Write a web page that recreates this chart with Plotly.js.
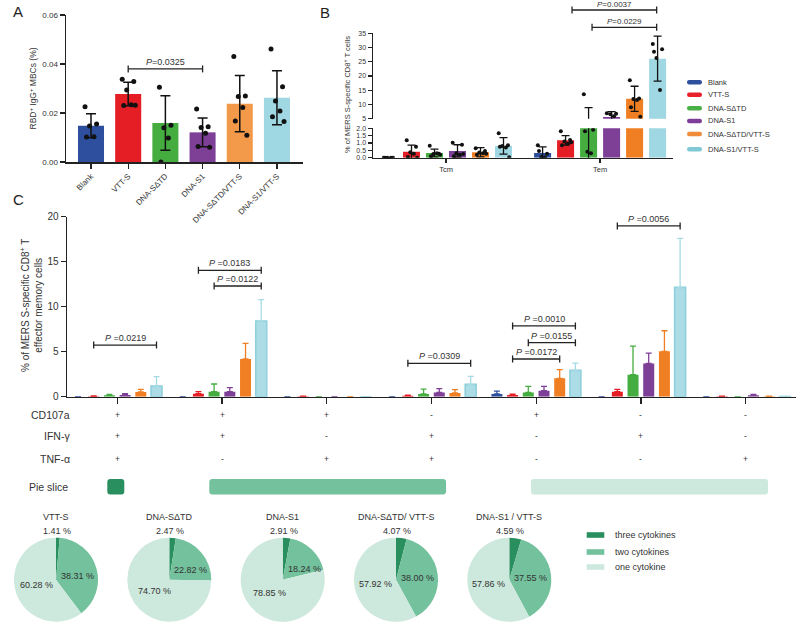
<!DOCTYPE html>
<html><head><meta charset="utf-8">
<script src="https://cdn.plot.ly/plotly-3.0.1.min.js"></script>
<style>html,body{margin:0;padding:0;background:#fff}#chart{width:796px;height:622px}</style>
</head><body><div id="chart"></div>
<script>
const W=796,H=622;
// ---------- data ----------
const seriesNames=['Blank','VTT-S','DNA-SΔTD','DNA-S1','DNA-SΔTD/VTT-S','DNA-S1/VTT-S'];
const colorsA=['#2d4f9e','#e41e24','#45ad40','#7e3f97','#f39a4a','#9fd7e2'];
const colorsB=['#2d4f9e','#e41e24','#45ad40','#7e3f97','#f07f24','#9fd7e2'];
const legendColorsB=['#2d4f9e','#e8202a','#49b047','#7f3f98','#f08c3a','#80cad8'];

// Panel A: RBD+ IgG+ MBCs (%)
const meanA=[0.0148,0.0278,0.0159,0.0121,0.0238,0.0262];
const sdA=[0.0049,0.0048,0.0111,0.0059,0.0115,0.0110];
const ptsA_blank=[0.0226,0.0155,0.0147,0.0103,0.0102];
const ptsA_vtts=[0.0338,0.0329,0.0294,0.0234,0.0231,0.0232];
const ptsA_stdtd=[0.0305,0.0150,0.0140,0.0098,0.0];
const ptsA_s1=[0.0216,0.0144,0.0141,0.0117,0.0063,0.0060];
const ptsA_stdtdVtt=[0.0431,0.0269,0.0267,0.0222,0.0167,0.0109];
const ptsA_s1Vtt=[0.0461,0.0307,0.0249,0.0208,0.0185,0.0165];
const ptsA=[ptsA_blank,ptsA_vtts,ptsA_stdtd,ptsA_s1,ptsA_stdtdVtt,ptsA_s1Vtt];
const pA={from:1,to:3,y:0.038,label:'0.0325'};

// Panel B: Tcm / Tem
const groupsB=['Tcm','Tem'];
const tcmMean=[0,0.41,0.32,0.46,0.37,0.80];
const tcmSD=[0,0.45,0.27,0.42,0.31,0.56];
const temMean=[0.32,1.18,3.6,5.6,12.0,26.1];
const temSD=[0.41,0.32,5.3,1.9,4.4,7.9];
const tcmPts=[[0,0,0,0,0],[1.18,0.75,0.37,0.27,0.05,0.0],[0.82,0.27,0.25,0.30,0.10,0.20],[1.02,0.88,0.30,0.20,0.10,0.25],[0.65,0.45,0.35,0.30,0.20,0.27],[1.66,0.85,0.80,0.70,0.75,0.03]];
const temPts=[[0.84,0.27,0.05,0.02,0.45],[1.80,1.20,1.10,0.95,0.85,1.05],[13.6,1.9,0.4,0.3,1.8],[6.9,6.7,6.6,5.9,4.0,3.5],[18.5,12.1,11.9,11.6,9.0,5.7],[31.2,29.4,26.3,15.1,28.5]];

// Panel C: cytokine combinations
const cd107a=['+','+','+','-','+','-','-'];
const ifng=['+','+','-','+','-','+','-'];
const tnfa=['+','-','+','+','-','-','+'];
const cMean=[
 [0,0,0,0,0.30,0,0],
 [0.05,0.33,0.05,0.11,0.19,0.56,0.05],
 [0.15,0.56,0,0.30,0.48,2.44,0],
 [0.19,0.56,0,0.48,0.67,3.70,0.15],
 [0.52,4.19,0,0.41,2.04,5.04,0.04],
 [1.19,8.41,0,1.37,2.93,12.15,0.02]];
const cErr=[
 [0,0,0,0,0.33,0,0],
 [0.03,0.23,0.02,0.05,0.08,0.25,0.02],
 [0.11,0.85,0,0.55,0.67,3.19,0],
 [0.14,0.44,0,0.41,0.48,1.15,0.11],
 [0.29,1.74,0,0.37,0.96,2.29,0.02],
 [1.03,2.37,0,0.89,0.81,5.45,0.01]];
const colorsC=['#2d4f9e','#e41e24','#45ad40','#7e3f97','#f07f24','#acdde6'];
const errColorsC=['#2d4f9e','#e41e24','#45ad40','#7e3f97','#f07f24','#a5dae4'];
// comparisons: [group, barFrom, barTo, y, label]
const pC=[[0,1,5,5.74,'0.0219'],[1,1,5,14.04,'0.0183'],[1,2,5,12.3,'0.0122'],[3,1,5,3.71,'0.0309'],
          [4,1,5,7.86,'0.0010'],[4,2,5,6.0,'0.0155'],[4,1,4,4.19,'0.0172'],[5,1,5,18.97,'0.0056']];

// Pies
const pieNames=['VTT-S','DNA-SΔTD','DNA-S1','DNA-SΔTD/ VTT-S','DNA-S1 / VTT-S'];
const pieLabels=['three cytokines','two cytokines','one cytokine'];
const threeCyt=[1.41,2.47,2.91,4.07,4.59];
const twoCyt=[38.31,22.82,18.24,38.00,37.55];
const oneCyt=[60.28,74.70,78.85,57.92,57.86];
const pieColors=['#2a8f5e','#73c19d','#cde8dc'];

// ---------- build ----------
const traces=[],shapes=[],annotations=[];
const X=px=>px/W, Y=py=>1-py/H;
const jit=[-0.16,0.15,-0.04,0.08,-0.12,0.19];
const txt='#333', ax='#222';
function ann(text,xpx,ypx,o){annotations.push(Object.assign({xref:'paper',yref:'paper',x:X(xpx),y:Y(ypx),xanchor:'center',yanchor:'middle',text,showarrow:false,font:{size:9,color:txt}},o||{}));}
function bracket(xr,yr,x0,x1,y,label,fs,ys){
  shapes.push({type:'line',xref:xr,yref:yr,x0,x1,y0:y,y1:y,line:{color:ax,width:1.3}});
  [x0,x1].forEach(x=>shapes.push({type:'line',xref:xr,yref:yr,x0:x,x1:x,ysizemode:'pixel',yanchor:y,y0:-3.5,y1:3.5,line:{color:ax,width:1.3}}));
  annotations.push({xref:xr,yref:yr,x:(x0+x1)/2,y,text:'<i>P</i>'+label,showarrow:false,xanchor:'center',yanchor:'bottom',yshift:ys,borderpad:0,font:{size:fs,color:txt}});
}
function rrect(x0,y0,x1,y1,r,color){
  const p=`M ${X(x0+r)},${Y(y0)} L ${X(x1-r)},${Y(y0)} Q ${X(x1)},${Y(y0)} ${X(x1)},${Y(y0+r)} L ${X(x1)},${Y(y1-r)} Q ${X(x1)},${Y(y1)} ${X(x1-r)},${Y(y1)} L ${X(x0+r)},${Y(y1)} Q ${X(x0)},${Y(y1)} ${X(x0)},${Y(y1-r)} L ${X(x0)},${Y(y0+r)} Q ${X(x0)},${Y(y0)} ${X(x0+r)},${Y(y0)} Z`;
  shapes.push({type:'path',xref:'paper',yref:'paper',path:p,fillcolor:color,line:{width:0},layer:'above'});
}

// Panel A
seriesNames.forEach((n,i)=>{
  traces.push({type:'bar',name:n,x:[i],y:[meanA[i]],width:0.70,xaxis:'x',yaxis:'y',
    marker:{color:colorsA[i]},
    error_y:{type:'data',array:[sdA[i]],color:'#111',thickness:1.5,width:5},hoverinfo:'y'});
  traces.push({type:'scatter',mode:'markers',x:ptsA[i].map((v,k)=>i+jit[k]),y:ptsA[i],xaxis:'x',yaxis:'y',
    marker:{color:'#111',size:5},hoverinfo:'y'});
});
bracket('x','y',pA.from,pA.to,pA.y,'=' + pA.label,9,1);

// Panel B
const temOff=6.7;
seriesNames.forEach((n,i)=>{
  ['y2','y3'].forEach(ya=>{
    traces.push({type:'bar',name:n,x:[i,temOff+i],y:[tcmMean[i],temMean[i]],width:0.74,xaxis:'x2',yaxis:ya,
      marker:{color:colorsB[i]},error_y:{type:'data',array:[tcmSD[i],temSD[i]],color:'#111',thickness:1.3,width:4},hoverinfo:'y'});
    const xs=tcmPts[i].map((v,k)=>i+jit[k]*1.3).concat(temPts[i].map((v,k)=>temOff+i+jit[k]*1.3));
    traces.push({type:'scatter',mode:'markers',x:xs,y:tcmPts[i].concat(temPts[i]),xaxis:'x2',yaxis:ya,
      marker:{color:'#111',size:4},hoverinfo:'y'});
  });
});
bracket('x2','paper',7.98,11.66,Y(10),'=0.0037',8,0);
bracket('x2','paper',8.85,11.66,Y(27.3),'=0.0229',8,0);
// legend B
seriesNames.forEach((n,i)=>{
  const yc=[82.3,94.7,108.3,121,134,149.3][i];
  rrect(687,yc-2.2,702,yc+2.2,2.2,legendColorsB[i]);
  ann(n,706,yc,{xanchor:'left',font:{size:7.5,color:txt}});
});

// Panel C
const gStep=6.67;
seriesNames.forEach((n,i)=>{
  const xs=cMean[i].map((v,g)=>g*gStep+i);
  const t={type:'bar',name:n,x:xs,y:cMean[i],width:0.7,xaxis:'x3',yaxis:'y4',
    marker:{color:colorsC[i]},
    error_y:{type:'data',symmetric:false,array:cErr[i],arrayminus:cErr[i].map(()=>0),color:errColorsC[i],thickness:1.3,width:3},hoverinfo:'y'};
  if(i===5) t.marker.line={color:'#8fd0dc',width:1.6};
  traces.push(t);
});
pC.forEach(p=>bracket('x3','y4',p[0]*gStep+p[1],p[0]*gStep+p[2],p[3],' =' + p[4],9,1));
const gCenters=cd107a.map((v,g)=>g*gStep+2.5);
const cPx=g=>117.3+104.7*g;
// table
const rowY=[415,435.7,459.3];
[['CD107a',cd107a],['IFN-γ',ifng],['TNF-α',tnfa]].forEach((r,k)=>{
  ann(r[0],72,rowY[k],{xanchor:'right',font:{size:10.5,color:txt}});
  r[1].forEach((s,g)=>ann(s,cPx(g),rowY[k],{font:{size:8.5,color:txt}}));
});
ann('Pie slice',70,486.7,{xanchor:'right',font:{size:10.5,color:txt}});
const sliceSpans=[[107.3,124.3,0],[209.3,446,1],[531,768,2]];
sliceSpans.forEach(s=>rrect(s[0],479,s[1],494.5,3,pieColors[s[2]]));

// Pies
const pieCx=[56,169.3,282.7,396,509.3], pieCy=579.7, R=42;
pieNames.forEach((n,i)=>{
  const vals=[threeCyt[i],twoCyt[i],oneCyt[i]];
  traces.push({type:'pie',values:vals,labels:pieLabels,sort:false,direction:'clockwise',rotation:0,
    domain:{x:[X(pieCx[i]-R),X(pieCx[i]+R)],y:[Y(pieCy+R),Y(pieCy-R)]},
    marker:{colors:pieColors,line:{width:0}},textinfo:'none',hoverinfo:'label+value',showlegend:false});
  ann(n,pieCx[i],517.3,{font:{size:9,color:txt}});
  ann(vals[0].toFixed(2)+' %',pieCx[i]+1,530.5,{font:{size:9,color:txt}});
  const tot=vals.reduce((a,b)=>a+b,0);
  const mid2=(vals[0]+vals[1]/2)/tot*2*Math.PI;
  ann(vals[1].toFixed(2)+' %',pieCx[i]+3,pieCy-15*Math.cos(mid2),{xanchor:'left',font:{size:9,color:txt}});
  const mid3=(vals[0]+vals[1]+vals[2]/2)/tot*2*Math.PI, r=0.5*R;
  ann(vals[2].toFixed(2)+' %',pieCx[i]+r*Math.sin(mid3),pieCy-r*0.8*Math.cos(mid3),{font:{size:9,color:txt}});
});
// pie legend
[535,552,567].forEach((yc,k)=>{
  shapes.push({type:'rect',xref:'paper',yref:'paper',x0:X(586.7),x1:X(604.3),y0:Y(yc+2.8),y1:Y(yc-2.8),fillcolor:pieColors[k],line:{width:0}});
  ann(pieLabels[k],612.7,yc,{xanchor:'left',font:{size:9,color:txt}});
});

// titles & panel letters
ann('A',18,11,{font:{size:15,color:'#222'}});
ann('B',325,12,{font:{size:15,color:'#222'}});
ann('C',18,199,{font:{size:15,color:'#222'}});
ann('RBD<sup>+</sup> IgG<sup>+</sup> MBCs (%)',33,88.5,{textangle:-90,font:{size:8.5,color:txt}});
ann('% of MERS S-specific CD8<sup>+</sup> T cells',347,95,{textangle:-90,font:{size:7.5,color:txt}});
ann('% of MERS S-specific CD8<sup>+</sup> T<br>effector memory cells',31,306,{textangle:-90,font:{size:10,color:txt}});

const axBase={showline:true,linecolor:ax,linewidth:1.5,ticks:'outside',tickcolor:ax,tickwidth:1.3,showgrid:false,zeroline:false,fixedrange:true,tickfont:{color:txt}};
const layout={
  width:W,height:H,margin:{l:0,r:0,t:0,b:0},paper_bgcolor:'#fff',plot_bgcolor:'rgba(0,0,0,0)',
  font:{family:'Arial, "Liberation Sans", Helvetica, sans-serif',color:txt,size:9},
  showlegend:false,barmode:'overlay',
  xaxis:Object.assign({},axBase,{domain:[X(66),X(303)],range:[-0.672,5.70],anchor:'y',ticklen:5,tickvals:[0,1,2,3,4,5],ticktext:seriesNames,tickangle:-45,tickfont:{size:8,color:txt}}),
  yaxis:Object.assign({},axBase,{domain:[Y(162),Y(15)],range:[0,0.06],anchor:'x',ticklen:5,tickvals:[0,0.02,0.04,0.06],tickformat:'.2f',tickfont:{size:8,color:txt}}),
  xaxis2:Object.assign({},axBase,{domain:[X(373),X(673)],range:[-0.674,12.37],anchor:'y2',ticklen:4,tickvals:[2.5,temOff+2.5],ticktext:groupsB,tickfont:{size:7.5,color:txt}}),
  yaxis2:Object.assign({},axBase,{domain:[Y(157.7),Y(128.3)],range:[0,2],anchor:'x2',ticklen:4,tickvals:[0,0.5,1,1.5,2],tickformat:'.1f',tickfont:{size:7,color:txt}}),
  yaxis3:Object.assign({},axBase,{domain:[Y(118.7),Y(33.3)],range:[5,35],anchor:'x2',ticklen:4,tickvals:[5,10,15,20,25,30,35],tickfont:{size:7,color:txt}}),
  xaxis3:Object.assign({},axBase,{domain:[X(67),1],range:[-0.70,45.73],anchor:'y4',ticklen:6,tickvals:gCenters,showticklabels:false}),
  yaxis4:Object.assign({},axBase,{domain:[Y(396.7),Y(216.7)],range:[0,20],anchor:'x3',ticklen:5,tickvals:[0,5,10,15,20],tickfont:{size:10,color:txt}}),
  shapes,annotations
};
Plotly.newPlot('chart',traces,layout,{displayModeBar:false,staticPlot:true});
</script></body></html>
